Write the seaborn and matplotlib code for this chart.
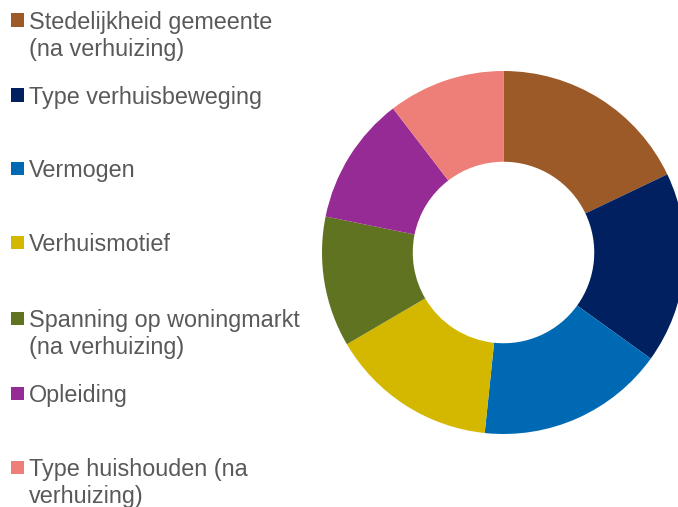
import matplotlib
matplotlib.use("Agg")
import matplotlib.pyplot as plt
import seaborn as sns
from matplotlib.patches import Rectangle

categories = [
    "Stedelijkheid gemeente\n(na verhuizing)",
    "Type verhuisbeweging",
    "Vermogen",
    "Verhuismotief",
    "Spanning op woningmarkt\n(na verhuizing)",
    "Opleiding",
    "Type huishouden (na\nverhuizing)",
]
values = [17.9, 17.0, 16.7, 14.9, 11.6, 11.4, 10.4]
colors = ["#9B5A28", "#002060", "#0069B4", "#D4B800", "#5F7320", "#972B96", "#EE7E78"]

sns.set_theme(style="white")
plt.rcParams["font.family"] = ["Liberation Sans", "DejaVu Sans"]

W, H = 678, 507
fig = plt.figure(figsize=(W / 100, H / 100), dpi=100)

cx, cy, r = 503.5, 252.5, 181.5
ax = fig.add_axes([(cx - r) / W, (H - cy - r) / H, 2 * r / W, 2 * r / H])
pal = sns.color_palette(colors)
ax.pie(values, colors=pal, startangle=90, counterclock=False,
       radius=1.0, wedgeprops=dict(width=0.5, linewidth=0))
ax.set_xlim(-1, 1)
ax.set_ylim(-1, 1)
ax.set_aspect("equal")
ax.axis("off")

# legend drawn manually (marker aligned with first text line)
legend_y = [20, 95, 168, 242, 318, 393, 467]
sq = 13
for lab, col, y in zip(categories, pal, legend_y):
    fig.patches.append(Rectangle((11 / W, (H - y - sq / 2) / H), sq / W, sq / H,
                                 transform=fig.transFigure, facecolor=col,
                                 edgecolor="none"))
    for i, line in enumerate(lab.split("\n")):
        fig.text(29 / W, (H - y - i * 27) / H, line, fontsize=16.8,
                 color="#595959", va="center_baseline", ha="left")

fig.savefig("out.png", dpi=100)
